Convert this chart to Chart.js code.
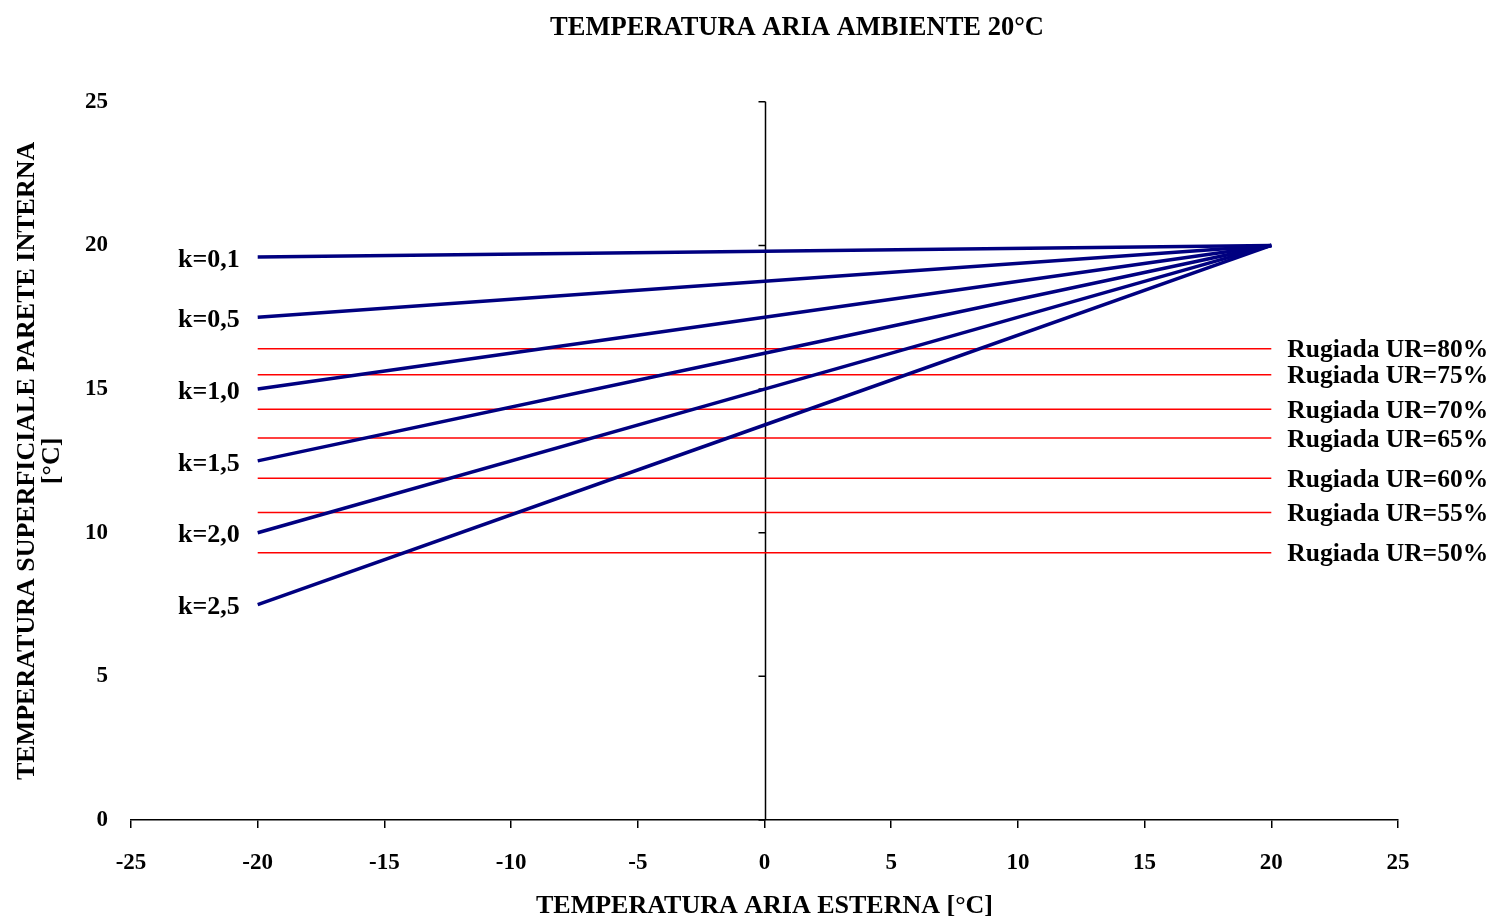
<!DOCTYPE html>
<html>
<head>
<meta charset="utf-8">
<script src="https://cdn.jsdelivr.net/npm/chart.js@4/dist/chart.umd.min.js"></script>
<style>
  html, body { margin: 0; padding: 0; background: #ffffff; }
  #wrap { width: 1492px; height: 919px; }
</style>
</head>
<body>
<div id="wrap"><canvas id="c" width="1492" height="919"></canvas></div>
<script>
// ---- Data ----
const chartTitle = 'TEMPERATURA ARIA AMBIENTE 20°C';
const xTitle = 'TEMPERATURA ARIA ESTERNA [°C]';
const yTitle = ['TEMPERATURA SUPERFICIALE PARETE INTERNA', '[°C]'];

const xPoints = [-20, 0, 20];          // outdoor air temperature
const kLabels = ['k=0,1', 'k=0,5', 'k=1,0', 'k=1,5', 'k=2,0', 'k=2,5'];
const k01 = [19.6, 19.8, 20.0];
const k05 = [17.5, 18.75, 20.0];
const k10 = [15.0, 17.5, 20.0];
const k15 = [12.5, 16.25, 20.0];
const k20 = [10.0, 15.0, 20.0];
const k25 = [7.5, 13.75, 20.0];

const dewX = [-20, 20];
const urLabels = ['Rugiada UR=80%', 'Rugiada UR=75%', 'Rugiada UR=70%', 'Rugiada UR=65%',
                  'Rugiada UR=60%', 'Rugiada UR=55%', 'Rugiada UR=50%'];
const dewPoints = [16.4, 15.5, 14.3, 13.3, 11.9, 10.7, 9.3];

const xTicks = [-25, -20, -15, -10, -5, 0, 5, 10, 15, 20, 25];
const yTicks = [0, 5, 10, 15, 20, 25];

// ---- Build datasets ----
const FONT = "'Liberation Serif', 'Times New Roman', serif";
const kSeries = [k01, k05, k10, k15, k20, k25];
const datasets = [];
kSeries.forEach((s, i) => {
  datasets.push({
    label: kLabels[i],
    data: xPoints.map((x, j) => ({ x: x, y: s[j] })),
    borderColor: '#000080',
    backgroundColor: '#000080',
    borderWidth: 3.5,
    pointRadius: 0,
    showLine: true,
    tension: 0,
    kind: 'k',
    order: 1
  });
});
dewPoints.forEach((v, i) => {
  datasets.push({
    label: urLabels[i],
    data: dewX.map(x => ({ x: x, y: v })),
    borderColor: '#FF0000',
    backgroundColor: '#FF0000',
    borderWidth: 1.5,
    pointRadius: 0,
    showLine: true,
    kind: 'ur',
    order: 2
  });
});

// ---- Plugins ----
const zeroAxis = {
  id: 'zeroAxis',
  beforeDatasetsDraw(chart) {
    const xs = chart.scales.x, ys = chart.scales.y;
    const ctx = chart.ctx;
    const x0 = Math.round(xs.getPixelForValue(0)) + 0.5;
    ctx.save();
    ctx.strokeStyle = '#000000';
    ctx.lineWidth = 1.5;
    ctx.beginPath();
    ctx.moveTo(x0, ys.getPixelForValue(yTicks[0]));
    ctx.lineTo(x0, ys.getPixelForValue(yTicks[yTicks.length - 1]));
    yTicks.forEach(t => {
      const py = ys.getPixelForValue(t);
      ctx.moveTo(x0, py);
      ctx.lineTo(x0 - 7, py);
    });
    ctx.stroke();
    ctx.restore();
  }
};

const seriesLabels = {
  id: 'seriesLabels',
  afterDatasetsDraw(chart) {
    const ctx = chart.ctx;
    ctx.save();
    ctx.fillStyle = '#000000';
    ctx.textBaseline = 'middle';
    chart.data.datasets.forEach((ds, i) => {
      const meta = chart.getDatasetMeta(i);
      if (ds.kind === 'k') {
        const p = meta.data[0];
        ctx.font = 'bold 26px ' + FONT;
        ctx.textAlign = 'right';
        ctx.fillText(ds.label, p.x - 18, p.y + 3);
      } else {
        const p = meta.data[meta.data.length - 1];
        ctx.font = 'bold 25.5px ' + FONT;
        ctx.textAlign = 'left';
        ctx.fillText(ds.label, p.x + 16, p.y + 2);
      }
    });
    ctx.restore();
  }
};

// ---- Chart ----
new Chart(document.getElementById('c'), {
  type: 'scatter',
  data: { datasets: datasets },
  plugins: [zeroAxis, seriesLabels],
  options: {
    responsive: false,
    animation: false,
    devicePixelRatio: 1,
    layout: { padding: { left: 0, right: -102, top: 0, bottom: 0 } },
    plugins: {
      legend: { display: false },
      tooltip: { enabled: false },
      title: {
        display: true,
        text: chartTitle,
        color: '#000000',
        font: { family: FONT, size: 26.5, weight: 'bold', lineHeight: 1.2 },
        padding: { top: 12, bottom: 58 }
      }
    },
    scales: {
      x: {
        type: 'linear',
        position: 'bottom',
        min: -25, max: 25,
        afterFit(s) { s.height = 99; },
        afterBuildTicks(s) { s.ticks = xTicks.map(v => ({ value: v })); },
        border: { display: true, color: '#000000', width: 1.5 },
        grid: { display: true, drawOnChartArea: false, drawTicks: true, tickLength: 8, color: '#000000', lineWidth: 1.5 },
        ticks: {
          color: '#000000',
          padding: 21,
          maxRotation: 0,
          font: { family: FONT, size: 23, weight: 'bold' },
          callback: v => String(v)
        },
        title: {
          display: true,
          text: xTitle,
          color: '#000000',
          font: { family: FONT, size: 26, weight: 'bold', lineHeight: 1.2 },
          padding: { top: 0, bottom: -3 }
        }
      },
      y: {
        type: 'linear',
        position: 'left',
        min: 0, max: 25,
        afterFit(s) { s.width = 131; },
        afterBuildTicks(s) { s.ticks = yTicks.map(v => ({ value: v })); },
        border: { display: false },
        grid: { display: false, drawTicks: false },
        ticks: {
          color: '#000000',
          padding: 23,
          font: { family: FONT, size: 23, weight: 'bold' },
          callback: v => String(v)
        },
        title: {
          display: true,
          text: yTitle,
          color: '#000000',
          font: { family: FONT, size: 26, weight: 'bold', lineHeight: 0.95 },
          padding: { top: 15, bottom: 0 }
        }
      },
      yRight: {
        type: 'linear',
        position: 'right',
        min: 0, max: 25,
        afterFit(s) { s.width = 196; },
        border: { display: false },
        grid: { display: false, drawTicks: false },
        ticks: { display: false }
      }
    }
  }
});
</script>
</body>
</html>
